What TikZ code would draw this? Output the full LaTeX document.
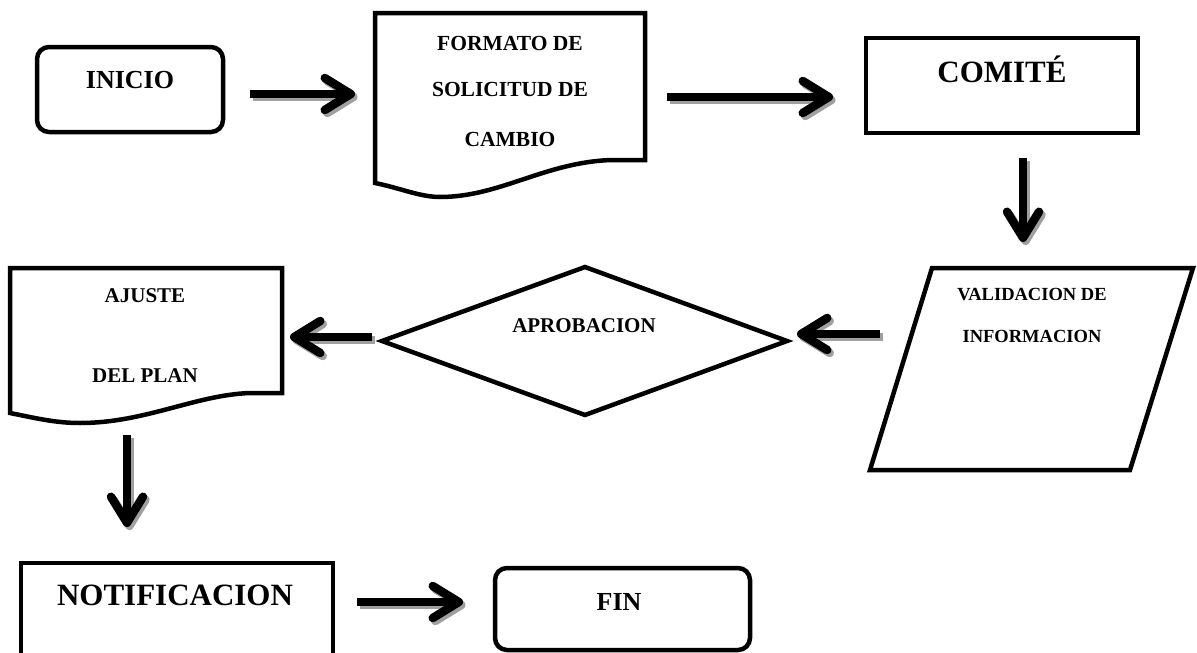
\documentclass[tikz,border=0pt]{standalone}
\usepackage{fontspec}
\setmainfont{Liberation Serif}
\usetikzlibrary{arrows.meta}
\definecolor{shadowgray}{RGB}{160,160,160}

\begin{document}
\begin{tikzpicture}[x=1pt, y=-1pt,
  shape line/.style={draw, line width=4.5pt, line join=miter},
  lbl/.style={anchor=base, inner sep=0pt, outer sep=0pt, font=\bfseries},
  flow/.style={line width=8.5pt,
    -{Straight Barb[length=26pt, width=32pt, round]}},
  flow shadow/.style={flow, draw=shadowgray,
    transform canvas={shift={(2.5pt,-3pt)}}},
]
\useasboundingbox (0,0) rectangle (1197,653);
\clip (0,0) rectangle (1197,653);

% ---- shapes ----
% start terminal
\draw[shape line, rounded corners=12pt] (37,47) rectangle (223,132);
% change request form (document shape)
\draw[shape line] (375,183) -- (375,13) -- (645,13) -- (645,160) -- (612,160)
  .. controls (545,162) and (500,197) .. (440,197)
  .. controls (420,197) and (400,188) .. cycle;
% committee
\draw[shape line] (866,38) rectangle (1138,133);
% information validation (parallelogram)
\draw[shape line] (932,268) -- (1193,268) -- (1130,470) -- (870,470) -- cycle;
% approval decision
\draw[shape line] (382,341) -- (585,267) -- (787,341) -- (585,415) -- cycle;
% plan adjustment (document shape)
\draw[shape line] (10,413) -- (10,268) -- (282,268) -- (282,393) -- (250,393)
  .. controls (195,395) and (145,423) .. (80,423)
  .. controls (55,423) and (35,418) .. cycle;
% notification
\draw[shape line] (21,563) rectangle (333,700);
% end terminal
\draw[shape line, rounded corners=12pt] (495,568) rectangle (750,650);

% ---- labels ----
\node[lbl, font=\bfseries\fontsize{26}{30}\selectfont] (inicio) at (130,88) {INICIO};
\node[lbl, font=\bfseries\fontsize{21.5}{25}\selectfont] (formato1) at (510,50) {FORMATO DE};
\node[lbl, font=\bfseries\fontsize{21.5}{25}\selectfont] (formato2) at (510,96) {SOLICITUD DE};
\node[lbl, font=\bfseries\fontsize{21.5}{25}\selectfont] (formato3) at (510,146) {CAMBIO};
\node[lbl, font=\bfseries\fontsize{31}{36}\selectfont] (comite) at (1002,82) {COMITÉ};
\node[lbl, font=\bfseries\fontsize{18.5}{22}\selectfont] (valid1) at (1032,300) {VALIDACION DE};
\node[lbl, font=\bfseries\fontsize{18.5}{22}\selectfont] (valid2) at (1032,342) {INFORMACION};
\node[lbl, font=\bfseries\fontsize{21}{25}\selectfont] (aprob) at (584,332) {APROBACION};
\node[lbl, font=\bfseries\fontsize{21}{25}\selectfont] (ajuste1) at (145,302) {AJUSTE};
\node[lbl, font=\bfseries\fontsize{21}{25}\selectfont] (ajuste2) at (145,382) {DEL PLAN};
\node[lbl, font=\bfseries\fontsize{31}{36}\selectfont] (notif) at (175,605) {NOTIFICACION};
\node[lbl, font=\bfseries\fontsize{26}{30}\selectfont] (fin) at (619,610) {FIN};

% ---- connector end points ----
\coordinate (a1s) at (250,94);   \coordinate (a1e) at (355,94);
\coordinate (a2s) at (667,97);   \coordinate (a2e) at (833,97);
\coordinate (a3s) at (1023,158); \coordinate (a3e) at (1023,242);
\coordinate (a4s) at (880,334);  \coordinate (a4e) at (797,334);
\coordinate (a5s) at (372,337);  \coordinate (a5e) at (290,337);
\coordinate (a6s) at (127,435);  \coordinate (a6e) at (127,527);
\coordinate (a7s) at (357,602);  \coordinate (a7e) at (463,602);

% ---- connectors: grey drop shadow first, then the black arrow ----
\foreach \s/\e in {a1s/a1e, a2s/a2e, a3s/a3e, a4s/a4e, a5s/a5e, a6s/a6e, a7s/a7e}{
  \draw[flow shadow] (\s) -- (\e);
  \draw[flow] (\s) -- (\e);
}
\end{tikzpicture}
\end{document}
